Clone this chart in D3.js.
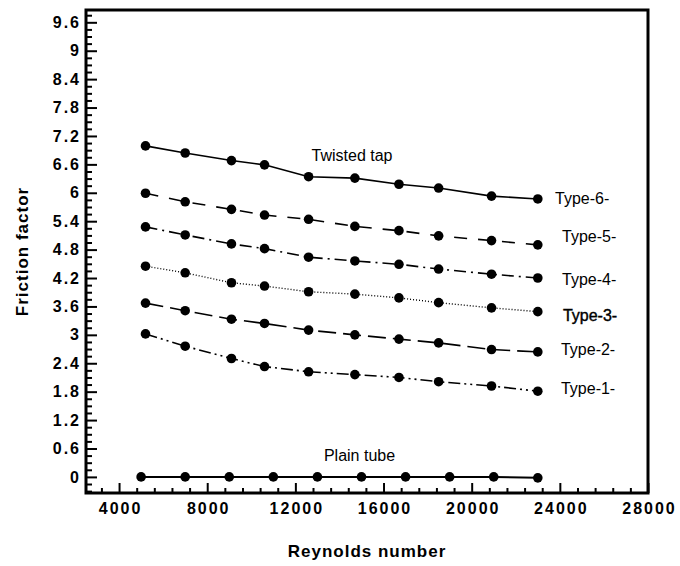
<!DOCTYPE html>
<html lang="en">
    <head>
        <meta charset="UTF-8"/>
        <title>Friction factor</title>
        <script src="https://d3js.org/d3.v7.min.js"></script>
        <style>
            body { margin: 0; background-color: #fff; font-family: Arial, "Liberation Sans", sans-serif; }
            .tick text { font-weight: bold; font-size: 16px; letter-spacing: 2px; fill: #000; }
            .tick line { stroke: #000; stroke-width: 2px; }
        </style>
    </head>
    <body>
        <div id="grafico"></div>
        <script>
            // valores
            var reynoldsPlain = [5000, 7000, 9000, 11000, 13000, 15000, 17000, 19000, 21000, 23000];
            var reynoldsType = [5200, 7000, 9100, 10600, 12600, 14700, 16700, 18500, 20900, 23000];
            var plainTube = [0, 0, 0, 0, 0, 0, 0, 0, 0, -0.02];
            var type6 = [6.99, 6.84, 6.68, 6.59, 6.34, 6.31, 6.18, 6.10, 5.93, 5.87];
            var type5 = [5.99, 5.81, 5.65, 5.53, 5.44, 5.29, 5.20, 5.09, 4.99, 4.90];
            var type4 = [5.28, 5.11, 4.92, 4.82, 4.64, 4.56, 4.49, 4.39, 4.28, 4.20];
            var type3 = [4.45, 4.31, 4.10, 4.03, 3.91, 3.86, 3.78, 3.68, 3.57, 3.49];
            var type2 = [3.67, 3.51, 3.33, 3.24, 3.10, 3.00, 2.91, 2.83, 2.69, 2.64];
            var type1 = [3.02, 2.76, 2.50, 2.33, 2.22, 2.16, 2.10, 2.01, 1.92, 1.81];
            var seriesNames = ["Plain tube", "Type-6-", "Type-5-", "Type-4-", "Type-3-", "Type-2-", "Type-1-"];
            var xTicks = [4000, 8000, 12000, 16000, 20000, 24000, 28000];
            var yTicks = [0, 0.6, 1.2, 1.8, 2.4, 3, 3.6, 4.2, 4.8, 5.4, 6, 6.6, 7.2, 7.8, 8.4, 9, 9.6];

            var margin = {top: 10, right: 32, bottom: 73, left: 86},
                width = 680 - margin.left - margin.right,
                height = 566 - margin.top - margin.bottom;

            var svg = d3.select("#grafico")
              .append("svg")
                .attr("width", 680)
                .attr("height", 566)
              .append("g")
                .attr("transform", "translate(" + margin.left + "," + margin.top + ")");

            var x = d3.scaleLinear().domain([2500, 28000]).range([0, width]);
            var y = d3.scaleLinear().domain([-0.34, 9.86]).range([height, 0]);

            // ticks menores
            var xMinor = d3.range(3200, 28000, 800).filter(v => v % 4000 != 0);
            var yMinor = d3.range(-0.3, 9.8, 0.15).filter(v => Math.abs(v / 0.6 - Math.round(v / 0.6)) > 0.01);

            svg.append("g")
                .attr("transform", "translate(0," + height + ")")
                .call(d3.axisBottom(x).tickValues(xMinor).tickSize(-5).tickFormat(""))
                .call(g => g.select(".domain").remove());
            svg.append("g")
                .call(d3.axisLeft(y).tickValues(yMinor).tickSize(-6).tickFormat(""))
                .call(g => g.select(".domain").remove());

            svg.append("g")
                .attr("transform", "translate(0," + height + ")")
                .call(d3.axisBottom(x).tickValues(xTicks).tickSize(-10).tickPadding(10).tickFormat(d3.format("d")))
                .call(g => g.select(".domain").remove())
                .selectAll("text").attr("dx", "1px");
            svg.append("g")
                .call(d3.axisLeft(y).tickValues(yTicks).tickSize(-11).tickPadding(5).tickFormat(d => d3.format("")(+d.toFixed(1))))
                .call(g => g.select(".domain").remove());

            // marco
            svg.append("rect")
                .attr("width", width)
                .attr("height", height)
                .attr("fill", "none")
                .attr("stroke", "#000")
                .attr("stroke-width", 3);

            var series = [
                {name: seriesNames[0], xs: reynoldsPlain, ys: plainTube, dash: null, w: 2},
                {name: seriesNames[1], xs: reynoldsType, ys: type6, dash: null, w: 1.6},
                {name: seriesNames[2], xs: reynoldsType, ys: type5, dash: "13,11", w: 1.6},
                {name: seriesNames[3], xs: reynoldsType, ys: type4, dash: "12,5,2,5", w: 1.6},
                {name: seriesNames[4], xs: reynoldsType, ys: type3, dash: "1,2", w: 1.4},
                {name: seriesNames[5], xs: reynoldsType, ys: type2, dash: "18,7", w: 1.6},
                {name: seriesNames[6], xs: reynoldsType, ys: type1, dash: "12,4,2,4,2,4", w: 1.6}
            ];

            var line = d3.line()
                .x(d => x(d[0]))
                .y(d => y(d[1]));

            series.forEach(function(s) {
                var pts = s.xs.map((v, i) => [v, s.ys[i]]);
                svg.append("path")
                    .datum(pts)
                    .attr("d", line)
                    .attr("fill", "none")
                    .attr("stroke", "#000")
                    .attr("stroke-width", s.w)
                    .attr("stroke-dasharray", s.dash);
                svg.append("g")
                    .selectAll("circle")
                    .data(pts)
                    .join("circle")
                    .attr("cx", d => x(d[0]))
                    .attr("cy", d => y(d[1]))
                    .attr("r", 4.8)
                    .attr("fill", "#000");
            });

            // etiquetas de series
            var etiquetas = [
                {text: "Twisted tap", x: 14570, y: 6.80, anchor: "middle"},
                {text: "Plain tube", x: 14910, y: 0.46, anchor: "middle"},
                {text: seriesNames[1], x: 23780, y: 5.89, anchor: "start"},
                {text: seriesNames[2], x: 24100, y: 5.07, anchor: "start"},
                {text: seriesNames[3], x: 24100, y: 4.18, anchor: "start"},
                {text: seriesNames[4], x: 24140, y: 3.42, anchor: "start", heavy: true},
                {text: seriesNames[5], x: 24050, y: 2.70, anchor: "start"},
                {text: seriesNames[6], x: 24050, y: 1.86, anchor: "start"}
            ];
            svg.append("g")
                .selectAll("text")
                .data(etiquetas)
                .join("text")
                .attr("x", d => x(d.x))
                .attr("y", d => y(d.y))
                .attr("dy", "0.35em")
                .attr("text-anchor", d => d.anchor)
                .attr("font-size", 16)
                .attr("stroke", d => d.heavy ? "#000" : null)
                .attr("stroke-width", d => d.heavy ? 0.4 : null)
                .text(d => d.text);

            // titulos de ejes
            svg.append("text")
                .attr("x", width / 2)
                .attr("y", height + 58)
                .attr("dy", "0.35em")
                .attr("text-anchor", "middle")
                .attr("font-size", 17)
                .attr("font-weight", "bold")
                .attr("letter-spacing", "1px")
                .text("Reynolds number");
            svg.append("text")
                .attr("transform", "translate(" + (-64) + "," + (height / 2) + ")rotate(-90)")
                .attr("dy", "0.35em")
                .attr("text-anchor", "middle")
                .attr("font-size", 17)
                .attr("font-weight", "bold")
                .attr("letter-spacing", "1px")
                .text("Friction factor");
        </script>
    </body>
</html>
